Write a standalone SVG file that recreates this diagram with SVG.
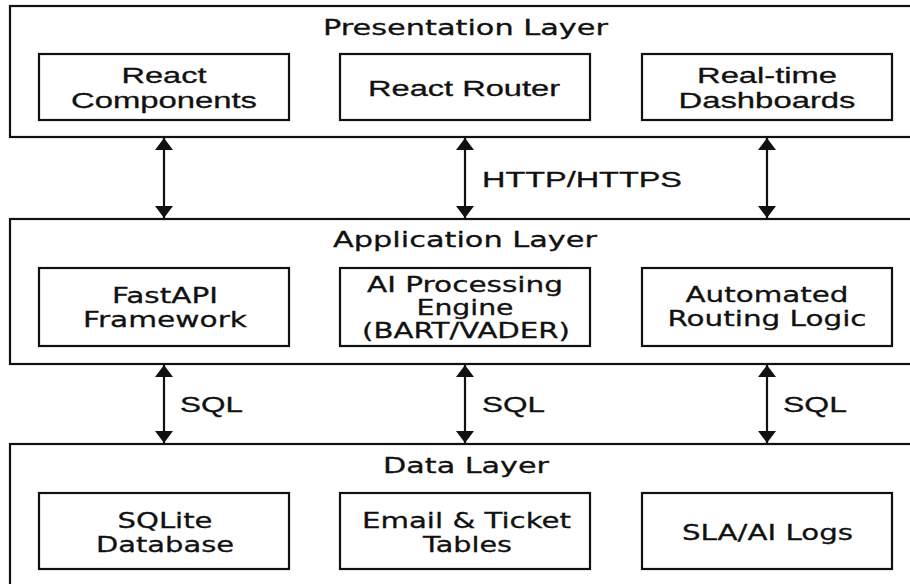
<svg xmlns="http://www.w3.org/2000/svg" width="910" height="584" viewBox="0 0 910 584">
<style>
.layer{fill:#fff;stroke:#111;stroke-width:2.2}
.box{fill:#fff;stroke:#111;stroke-width:2.2}
.t{font-family:"DejaVu Sans",sans-serif;font-size:22px;fill:#111;stroke:#111;stroke-width:0.3;text-anchor:middle}
.a{font-family:"Liberation Sans",Arial,sans-serif;font-size:22px;fill:#111;stroke:#111;stroke-width:0.3;text-anchor:middle}
.conn{stroke:#111;stroke-width:2.2;fill:none}
</style>
<defs>
<marker id="ah" viewBox="0 0 12 18" refX="12" refY="9" markerWidth="12" markerHeight="18" orient="auto-start-reverse" markerUnits="userSpaceOnUse">
<path d="M0,0 L12,9 L0,18 Z" fill="#111"/>
</marker>
</defs>
<rect width="910" height="584" fill="#fff"/>

<g id="presentation-layer">
<rect class="layer" x="10" y="6" width="920" height="131"/>
<text class="t" x="465.5" y="35" textLength="285" lengthAdjust="spacingAndGlyphs">Presentation Layer</text>
</g>
<g id="react-components">
<rect class="box" x="39" y="54" width="250" height="66"/>
<text class="a" x="164" y="83" textLength="85" lengthAdjust="spacingAndGlyphs">React</text>
<text class="a" x="164" y="108" textLength="186" lengthAdjust="spacingAndGlyphs">Components</text>
</g>
<g id="react-router">
<rect class="box" x="340" y="54" width="250" height="66"/>
<text class="a" x="464" y="96" textLength="192" lengthAdjust="spacingAndGlyphs">React Router</text>
</g>
<g id="realtime-dashboards">
<rect class="box" x="642" y="54" width="250" height="66"/>
<text class="a" x="767" y="83" textLength="140" lengthAdjust="spacingAndGlyphs">Real-time</text>
<text class="a" x="767" y="108" textLength="177" lengthAdjust="spacingAndGlyphs">Dashboards</text>
</g>

<g id="application-layer">
<rect class="layer" x="10" y="219" width="920" height="145"/>
<text class="t" x="465" y="247" textLength="264" lengthAdjust="spacingAndGlyphs">Application Layer</text>
</g>
<g id="fastapi">
<rect class="box" x="39" y="268" width="250" height="78"/>
<text class="t" x="165" y="303" textLength="106" lengthAdjust="spacingAndGlyphs">FastAPI</text>
<text class="t" x="165" y="327" textLength="164" lengthAdjust="spacingAndGlyphs">Framework</text>
</g>
<g id="ai-engine">
<rect class="box" x="340" y="268" width="250" height="78"/>
<text class="t" x="465" y="292" textLength="196" lengthAdjust="spacingAndGlyphs">AI Processing</text>
<text class="t" x="465" y="315" textLength="97" lengthAdjust="spacingAndGlyphs">Engine</text>
<text class="t" x="466" y="338" textLength="208" lengthAdjust="spacingAndGlyphs">(BART/VADER)</text>
</g>
<g id="routing-logic">
<rect class="box" x="642" y="268" width="250" height="78"/>
<text class="t" x="767" y="302" textLength="163" lengthAdjust="spacingAndGlyphs">Automated</text>
<text class="t" x="767" y="326" textLength="199" lengthAdjust="spacingAndGlyphs">Routing Logic</text>
</g>

<g id="data-layer">
<rect class="layer" x="10" y="444" width="920" height="160"/>
<text class="t" x="466" y="473" textLength="166" lengthAdjust="spacingAndGlyphs">Data Layer</text>
</g>
<g id="sqlite">
<rect class="box" x="39" y="493" width="250" height="76"/>
<text class="t" x="165" y="528" textLength="95" lengthAdjust="spacingAndGlyphs">SQLite</text>
<text class="t" x="165" y="552" textLength="138" lengthAdjust="spacingAndGlyphs">Database</text>
</g>
<g id="tables">
<rect class="box" x="340" y="493" width="250" height="76"/>
<text class="t" x="466.5" y="528" textLength="209" lengthAdjust="spacingAndGlyphs">Email &amp; Ticket</text>
<text class="t" x="467.5" y="552" textLength="89" lengthAdjust="spacingAndGlyphs">Tables</text>
</g>
<g id="logs">
<rect class="box" x="642" y="493" width="250" height="76"/>
<text class="t" x="767.5" y="540" textLength="171" lengthAdjust="spacingAndGlyphs">SLA/AI Logs</text>
</g>

<g id="connectors">
<line class="conn" x1="164" y1="138" x2="164" y2="218" marker-start="url(#ah)" marker-end="url(#ah)"/>
<line class="conn" x1="465" y1="138" x2="465" y2="218" marker-start="url(#ah)" marker-end="url(#ah)"/>
<line class="conn" x1="767" y1="138" x2="767" y2="218" marker-start="url(#ah)" marker-end="url(#ah)"/>
<text class="a" x="582" y="187" textLength="200" lengthAdjust="spacingAndGlyphs">HTTP/HTTPS</text>
<line class="conn" x1="164" y1="365" x2="164" y2="443" marker-start="url(#ah)" marker-end="url(#ah)"/>
<line class="conn" x1="465" y1="365" x2="465" y2="443" marker-start="url(#ah)" marker-end="url(#ah)"/>
<line class="conn" x1="767" y1="365" x2="767" y2="443" marker-start="url(#ah)" marker-end="url(#ah)"/>
<text class="a" x="211.5" y="412" textLength="63" lengthAdjust="spacingAndGlyphs">SQL</text>
<text class="a" x="513.5" y="412" textLength="63" lengthAdjust="spacingAndGlyphs">SQL</text>
<text class="a" x="815" y="412" textLength="64" lengthAdjust="spacingAndGlyphs">SQL</text>
</g>
</svg>
